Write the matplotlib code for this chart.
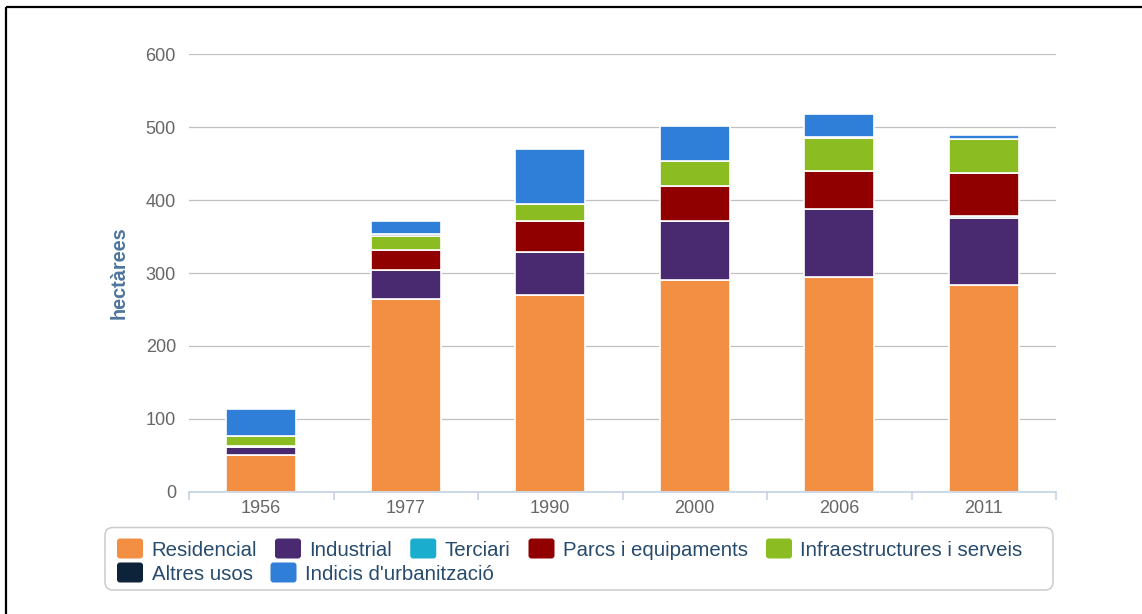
import numpy as np
import matplotlib
matplotlib.use('Agg')
import matplotlib.pyplot as plt
from matplotlib.patches import FancyBboxPatch

plt.rcParams['font.family'] = ['Liberation Sans', 'DejaVu Sans']

# Datos (hectàrees), llegits del gràfic
anys = ['1956', '1977', '1990', '2000', '2006', '2011']
residencial = [50, 264, 270, 290, 295, 284]
industrial = [11, 40, 59, 81, 93, 92]
terciari = [2, 0, 0, 0, 0, 2]
parcs = [0, 27, 42, 48, 52, 59]
infra = [14, 20, 23, 34, 45, 47]
altres = [0, 2, 0, 0, 2, 0]
indicis = [37, 18, 76, 49, 31, 5]

series = ['Residencial', 'Industrial', 'Terciari', 'Parcs i equipaments',
          'Infraestructures i serveis', 'Altres usos', "Indicis d'urbanització"]
valors = [residencial, industrial, terciari, parcs, infra, altres, indicis]
colors = ['#f28f43', '#492970', '#1aadce', '#910000', '#8bbc21', '#0d233a', '#2f7ed8']

W, H = 1142, 614
fig = plt.figure(figsize=(W / 100, H / 100), dpi=100)

# eix principal
ax = fig.add_axes([189 / W, 1 - 491.7 / H, (1056 - 189) / W, (491.7 - 54.3) / H])
x = np.arange(len(anys))
base = np.zeros(len(anys))
for nom, v, c in zip(series, valors, colors):
    v = np.array(v, dtype=float)
    ax.bar(x, v, width=0.485, bottom=base, color=c, edgecolor='white',
           linewidth=1.2, zorder=3)
    base += v

ax.set_xlim(-0.5, len(anys) - 0.5)
ax.set_ylim(0, 600)
ax.set_yticks(np.arange(0, 601, 100))
ax.grid(axis='y', color='#c0c0c0', linewidth=0.9)
ax.set_axisbelow(True)
for s in ['top', 'right', 'left']:
    ax.spines[s].set_visible(False)
ax.spines['bottom'].set_color('#c0d0e0')
ax.spines['bottom'].set_linewidth(1.1)
ax.spines['bottom'].set_zorder(4)

ax.set_xticks(x)
ax.set_xticklabels(anys)
ax.set_xticks(np.arange(-0.5, len(anys), 1), minor=True)
ax.tick_params(axis='x', which='major', length=0, pad=6, labelsize=13, labelcolor='#666666')
ax.tick_params(axis='x', which='minor', length=5.8, width=1.1, color='#c0d0e0', direction='out')
ax.tick_params(axis='y', length=0, pad=9.4, labelsize=13, labelcolor='#666666')

ax.set_ylabel('hectàrees', fontsize=14.3, fontweight='bold', color='#4d759e')
ax.yaxis.set_label_coords(-0.07, 0.5)

# capa en píxels per la llegenda i la vora
ov = fig.add_axes([0, 0, 1, 1])
ov.set_xlim(0, W)
ov.set_ylim(H, 0)
ov.axis('off')

ov.plot([6, W + 2], [6.5, 6.5], color='black', linewidth=1.6, solid_capstyle='butt')
ov.plot([6, 6], [6.5, H], color='black', linewidth=1.6, solid_capstyle='butt')

ov.add_patch(FancyBboxPatch((105, 527.5), 948, 62.5,
                            boxstyle='round,pad=0,rounding_size=8',
                            facecolor='white', edgecolor='#cccccc', linewidth=1.1))

fig.canvas.draw()
renderer = fig.canvas.get_renderer()
files = [series[:5], series[5:]]
cols = [colors[:5], colors[5:]]
for fila, (noms, cc) in enumerate(zip(files, cols)):
    yc = 548.5 + fila * 24
    xp = 117
    for nom, c in zip(noms, cc):
        ov.add_patch(FancyBboxPatch((xp, yc - 10), 26, 20,
                                    boxstyle='round,pad=0,rounding_size=3',
                                    facecolor=c, edgecolor='none'))
        t = ov.text(xp + 34.5, yc, nom, fontsize=14.7, color='#274b6d',
                    va='center_baseline', ha='left')
        w = t.get_window_extent(renderer).width
        xp = xp + 34.5 + w + 18

fig.savefig('out.png', dpi=100)
